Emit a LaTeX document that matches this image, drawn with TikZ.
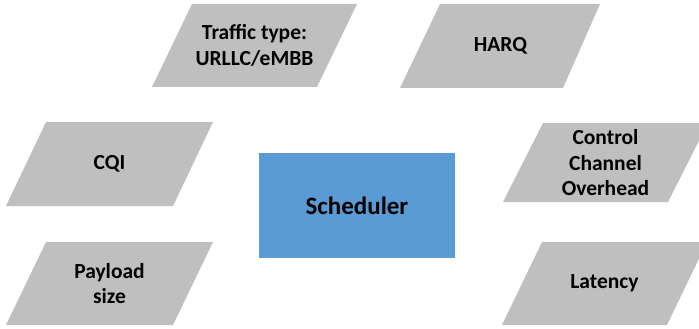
\documentclass[tikz,border=0pt]{standalone}
\usepackage{fontspec}
\setmainfont{Carlito}
\begin{document}
\begin{tikzpicture}[x=1pt,y=-1pt,
  inbox/.style={fill=paragray},
  lbl/.style={font=\bfseries\fontsize{21.5}{25.5}\selectfont, text=black, align=center, inner sep=0pt},
  sched/.style={fill=schedblue, minimum width=196pt, minimum height=105pt, inner sep=0pt,
    font=\bfseries\fontsize{25}{30}\selectfont}]
\definecolor{paragray}{HTML}{BFBFBF}
\definecolor{schedblue}{HTML}{5B9BD5}
\useasboundingbox (0,0) rectangle (699,329);
\clip (0,0) rectangle (699,329);

% input parallelograms
\fill[inbox] (152,87) -- (192,4) -- (357,4) -- (317,87) -- cycle;
\node[lbl] (traffic) at (254.5,45.5) {Traffic type:\\URLLC/eMBB};

\fill[inbox] (400,88) -- (440,4) -- (600,4) -- (563,88) -- cycle;
\node[lbl] (harq) at (500.5,46) {HARQ};

\fill[inbox] (6,206) -- (46,122) -- (213,122) -- (173,206) -- cycle;
\node[lbl] (cqi) at (109.5,164) {CQI};

\fill[inbox] (6,325) -- (46,242) -- (213,242) -- (173,325) -- cycle;
\node[lbl] (payload) at (109.5,283.5) {Payload\\size};

\fill[inbox] (503,202) -- (543,123) -- (708,123) -- (668,202) -- cycle;
\node[lbl] (control) at (605.5,163) {Control\\Channel\\Overhead};

\fill[inbox] (502,325) -- (542,242) -- (707,242) -- (667,325) -- cycle;
\node[lbl] (latency) at (604.5,283.5) {Latency};

% central block
\node[sched] (scheduler) at (357,205.5) {Scheduler};
\end{tikzpicture}
\end{document}
